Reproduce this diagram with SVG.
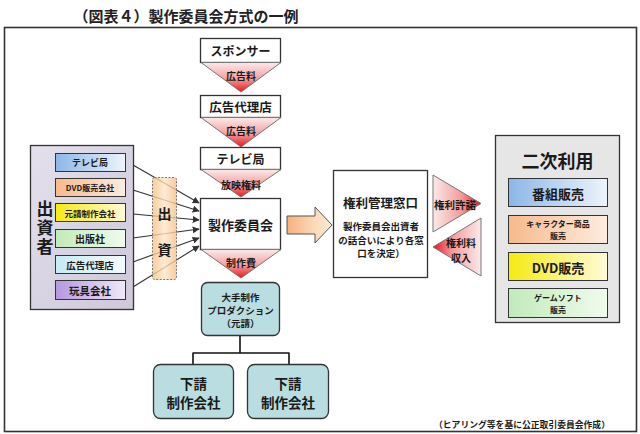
<svg xmlns="http://www.w3.org/2000/svg" width="640" height="434" viewBox="0 0 640 434">
<defs>
<style>
text{font-family:"Noto Sans CJK JP","Noto Sans CJK SC",sans-serif;font-weight:bold;fill:#1a1a1a;text-anchor:middle;dominant-baseline:central}
.box{fill:#fff;stroke:#333;stroke-width:1.3}
.tri{stroke:#777;stroke-width:1}
.sm{stroke:#333;stroke-width:1}
.rnd{fill:#b9dde0;stroke:#333;stroke-width:1.3}
.conn{stroke:#333;stroke-width:1.1;fill:none}
</style>
<linearGradient id="gDown" x1="0" y1="0" x2="0" y2="1"><stop offset="0" stop-color="#fbeaea"/><stop offset="0.55" stop-color="#f4a0a0"/><stop offset="1" stop-color="#e8141c"/></linearGradient>
<linearGradient id="gRight" x1="0" y1="0" x2="1" y2="0"><stop offset="0" stop-color="#fbeaea"/><stop offset="0.6" stop-color="#f49a9a"/><stop offset="1" stop-color="#e8141c"/></linearGradient>
<linearGradient id="gLeft" x1="1" y1="0" x2="0" y2="0"><stop offset="0" stop-color="#fbeaea"/><stop offset="0.6" stop-color="#f49a9a"/><stop offset="1" stop-color="#e8141c"/></linearGradient>
<linearGradient id="gArrow" x1="0" y1="0" x2="1" y2="0"><stop offset="0" stop-color="#f6b27a"/><stop offset="0.6" stop-color="#fbd9b8"/><stop offset="1" stop-color="#fde9d6"/></linearGradient>
<linearGradient id="gInv" x1="0" y1="0" x2="1" y2="0"><stop offset="0" stop-color="#f5c184"/><stop offset="0.5" stop-color="#fde6c8"/><stop offset="1" stop-color="#f5c184"/></linearGradient>
<linearGradient id="gPanel" x1="0" y1="0" x2="1" y2="1"><stop offset="0" stop-color="#e4e0ec"/><stop offset="1" stop-color="#cdc7da"/></linearGradient>
<linearGradient id="gBlue" x1="0" y1="0" x2="1" y2="0"><stop offset="0" stop-color="#8cb6e8"/><stop offset="1" stop-color="#eef4fc"/></linearGradient>
<linearGradient id="gOrange" x1="0" y1="0" x2="1" y2="0"><stop offset="0" stop-color="#f7b98c"/><stop offset="1" stop-color="#fdece0"/></linearGradient>
<linearGradient id="gYellow" x1="0" y1="0" x2="1" y2="0"><stop offset="0" stop-color="#f5ea10"/><stop offset="1" stop-color="#fffbd8"/></linearGradient>
<linearGradient id="gGreen" x1="0" y1="0" x2="1" y2="0"><stop offset="0" stop-color="#c2eab9"/><stop offset="1" stop-color="#f0fbee"/></linearGradient>
<linearGradient id="gCyan" x1="0" y1="0" x2="1" y2="0"><stop offset="0" stop-color="#c6eaf5"/><stop offset="1" stop-color="#f2fbfe"/></linearGradient>
<linearGradient id="gPurple" x1="0" y1="0" x2="1" y2="0"><stop offset="0" stop-color="#b597e0"/><stop offset="1" stop-color="#efe8f8"/></linearGradient>
<marker id="ah" viewBox="0 0 10 10" refX="9" refY="5" markerWidth="7" markerHeight="7" orient="auto" markerUnits="userSpaceOnUse"><path d="M0,0 L10,5 L0,10 z" fill="#333"/></marker>
</defs>
<rect x="0" y="0" width="640" height="434" fill="#fff"/>
<text x="186" y="15" style="font-size:15px;fill:#222">（図表４）製作委員会方式の一例</text>
<rect x="4.5" y="27.5" width="632" height="404" fill="none" stroke="#333" stroke-width="1.6"/>

<g id="connectors">
<line class="conn" x1="133" y1="165" x2="199" y2="203" marker-end="url(#ah)"/>
<line class="conn" x1="133" y1="190" x2="199" y2="211" marker-end="url(#ah)"/>
<line class="conn" x1="133" y1="214" x2="199" y2="220" marker-end="url(#ah)"/>
<line class="conn" x1="133" y1="238" x2="199" y2="229" marker-end="url(#ah)"/>
<line class="conn" x1="133" y1="262" x2="199" y2="238" marker-end="url(#ah)"/>
<line class="conn" x1="133" y1="287" x2="199" y2="246" marker-end="url(#ah)"/>
<path d="M240,335 V353 M193,353 H289 M193,352.5 V364 M289,352.5 V364" stroke="#111" stroke-width="1.6" fill="none"/>
</g>

<g id="investors">
<rect x="30.5" y="145.5" width="103" height="164" fill="url(#gPanel)" stroke="#333" stroke-width="1.3"/>
<text x="45" y="229" writing-mode="vertical-rl" style="font-size:17px;letter-spacing:2px">出資者</text>
<g id="inv-tv"><rect class="sm" x="55.5" y="153.5" width="70" height="18" fill="url(#gBlue)"/><text x="90" y="162.5" style="font-size:9px">テレビ局</text></g>
<g id="inv-dvd"><rect class="sm" x="55.5" y="178.5" width="70" height="18" fill="url(#gOrange)"/><text x="90" y="187.5" style="font-size:8px">DVD販売会社</text></g>
<g id="inv-moto"><rect class="sm" x="55.5" y="203.5" width="70" height="18" fill="url(#gYellow)"/><text x="90" y="212.5" style="font-size:8.5px">元請制作会社</text></g>
<g id="inv-pub"><rect class="sm" x="55.5" y="229.5" width="70" height="18" fill="url(#gGreen)"/><text x="90" y="238.5" style="font-size:10px">出版社</text></g>
<g id="inv-ad"><rect class="sm" x="55.5" y="255.5" width="70" height="18" fill="url(#gCyan)"/><text x="90" y="264.5" style="font-size:9.5px">広告代理店</text></g>
<g id="inv-toy"><rect class="sm" x="55.5" y="280.5" width="70" height="19" fill="url(#gPurple)"/><text x="90" y="290" style="font-size:10.5px">玩具会社</text></g>
</g>

<g id="shusshi">
<rect x="152.5" y="177.5" width="24" height="102" rx="2" fill="url(#gInv)" fill-opacity="0.8" stroke="#777" stroke-width="1" stroke-dasharray="2,1.5"/>
<text x="164.5" y="213" style="font-size:14px">出</text>
<text x="164.5" y="249" style="font-size:14px">資</text>
</g>

<g id="sponsor"><rect class="box" x="200.5" y="38.5" width="80" height="24"/><text x="240.5" y="50.5" style="font-size:12px">スポンサー</text></g>
<g id="fee1"><polygon class="tri" points="201,62.5 281,62.5 241,92" fill="url(#gDown)"/><text x="241" y="75" style="font-size:10px">広告料</text></g>
<g id="agency"><rect class="box" x="200.5" y="95.5" width="80" height="22"/><text x="240.5" y="106.5" style="font-size:12.5px">広告代理店</text></g>
<g id="fee2"><polygon class="tri" points="201,117.5 281,117.5 241,147" fill="url(#gDown)"/><text x="241" y="130" style="font-size:10px">広告料</text></g>
<g id="tv"><rect class="box" x="200.5" y="147.5" width="80" height="22"/><text x="240.5" y="158.5" style="font-size:12px">テレビ局</text></g>
<g id="fee3"><polygon class="tri" points="201,169.5 281,169.5 241,197" fill="url(#gDown)"/><text x="241" y="184" style="font-size:10px">放映権料</text></g>
<g id="committee"><rect class="box" x="200.5" y="198.5" width="80" height="51"/><text x="240.5" y="224" style="font-size:13px">製作委員会</text></g>
<g id="fee4"><polygon class="tri" points="201,249.5 281,249.5 241,278" fill="url(#gDown)"/><text x="241" y="262" style="font-size:10px">制作費</text></g>
<g id="prime"><rect class="rnd" x="201.5" y="282.5" width="78" height="53" rx="6"/>
<text x="240.5" y="297" style="font-size:9.5px">大手制作</text>
<text x="240.5" y="310" style="font-size:9.5px">プロダクション</text>
<text x="240.5" y="323" style="font-size:9.5px">（元請）</text></g>
<g id="sub1"><rect class="rnd" x="153.5" y="364.5" width="80" height="54" rx="7"/><text x="193.5" y="383" style="font-size:13.5px">下請</text><text x="193.5" y="402" style="font-size:13.5px">制作会社</text></g>
<g id="sub2"><rect class="rnd" x="247.5" y="364.5" width="81" height="54" rx="7"/><text x="288" y="383" style="font-size:13.5px">下請</text><text x="288" y="402" style="font-size:13.5px">制作会社</text></g>

<g id="bigarrow"><polygon points="287,216 315,216 315,207 332,225 315,243 315,234 287,234" fill="url(#gArrow)" stroke="#555" stroke-width="1"/></g>

<g id="rights"><rect class="box" x="333.5" y="170.5" width="94" height="107"/>
<text x="380.5" y="202" style="font-size:12.5px">権利管理窓口</text>
<text x="381" y="226" style="font-size:9.5px">製作委員会出資者</text>
<text x="381" y="239.5" style="font-size:9.5px">の話合いにより各窓</text>
<text x="381" y="253" style="font-size:9.5px">口を決定）</text></g>

<g id="license"><polygon class="tri" points="433,175 433,232 481,203.5" fill="url(#gRight)"/><text x="455" y="204" style="font-size:10.5px">権利許諾</text></g>
<g id="income"><polygon class="tri" points="481,218 481,276 433,247" fill="url(#gLeft)"/><text x="461" y="242" style="font-size:10px">権利料</text><text x="461" y="257" style="font-size:10px">収入</text></g>

<g id="secondary">
<rect x="495.5" y="135.5" width="124" height="187" fill="#e6e6e6" stroke="#333" stroke-width="1.3"/>
<text x="557.5" y="160" style="font-size:18px">二次利用</text>
<g id="sec-prog"><rect class="sm" x="508.5" y="178.5" width="99" height="28" fill="url(#gBlue)"/><text x="558" y="193" style="font-size:13px">番組販売</text></g>
<g id="sec-char"><rect class="sm" x="508.5" y="215.5" width="99" height="28" fill="url(#gOrange)"/><text x="558" y="223.5" style="font-size:8px">キャラクター商品</text><text x="558" y="235" style="font-size:8px">販売</text></g>
<g id="sec-dvd"><rect class="sm" x="508.5" y="252.5" width="99" height="28" fill="url(#gYellow)"/><text x="558" y="267" style="font-size:13px">DVD販売</text></g>
<g id="sec-game"><rect class="sm" x="508.5" y="288.5" width="99" height="29" fill="url(#gGreen)"/><text x="558" y="297" style="font-size:8px">ゲームソフト</text><text x="558" y="309" style="font-size:8px">販売</text></g>
</g>

<text x="522" y="424" style="font-size:8.8px">（ヒアリング等を基に公正取引委員会作成）</text>
</svg>
